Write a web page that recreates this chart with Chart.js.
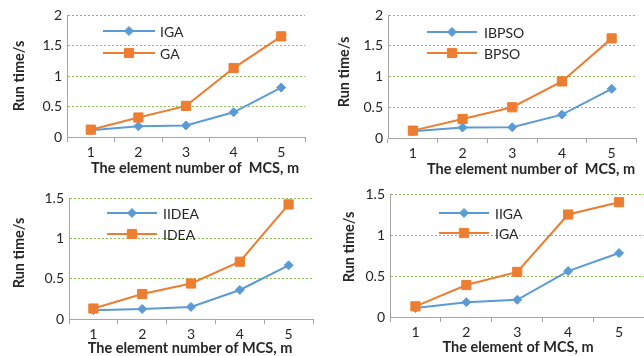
<!DOCTYPE html>
<html>
<head>
<meta charset="utf-8">
<script src="https://cdn.jsdelivr.net/npm/chart.js@4.4.1/dist/chart.umd.min.js"></script>
<style>
  html, body { margin: 0; padding: 0; background: #fff; overflow: hidden; width: 644px; height: 356px; }
  .panel { position: absolute; }
  canvas { display: block; }
</style>
</head>
<body>
<div class="panel" style="left:0px;top:0px"><canvas id="c1" width="322" height="178"></canvas></div>
<div class="panel" style="left:322px;top:0px"><canvas id="c2" width="322" height="178"></canvas></div>
<div class="panel" style="left:0px;top:178px"><canvas id="c3" width="322" height="178"></canvas></div>
<div class="panel" style="left:322px;top:178px"><canvas id="c4" width="330" height="178"></canvas></div>
<script>
// Number of MCS elements on the horizontal axis
const categories = ['1', '2', '3', '4', '5'];

// Run time (s) of each algorithm
const igaTimes    = [0.11, 0.175, 0.19, 0.405, 0.81];
const gaTimes     = [0.12, 0.32, 0.51, 1.13, 1.65];
const ibpsoTimes  = [0.11, 0.17, 0.175, 0.38, 0.80];
const bpsoTimes   = [0.12, 0.31, 0.50, 0.92, 1.62];
const iideaTimes  = [0.11, 0.124, 0.15, 0.36, 0.665];
const ideaTimes   = [0.13, 0.31, 0.44, 0.71, 1.42];
const iigaTimes   = [0.11, 0.18, 0.21, 0.56, 0.78];
const igaRefTimes = [0.13, 0.39, 0.55, 1.25, 1.40];

const seriesNames = [['IGA', 'GA'], ['IBPSO', 'BPSO'], ['IIDEA', 'IDEA'], ['IIGA', 'IGA']];
const seriesData = [[igaTimes, gaTimes], [ibpsoTimes, bpsoTimes], [iideaTimes, ideaTimes], [iigaTimes, igaRefTimes]];
const yMaxes = [2, 2, 1.5, 1.5];
const yStep = 0.5;
const xTitles = ['The element number of  MCS, m', 'The element number of  MCS, m', 'The element number of MCS, m', 'The element of MCS, m'];
const yTitle = 'Run time/s';

// Styling
const BLUE = '#5B9BD5';
const ORANGE = '#ED7D31';
const GREEN = '#8CC152';
const AXIS = '#A6A6A6';
const TEXT = '#262626';
const FONT = 'Lato, "Liberation Sans", sans-serif';

// Per-panel placement of plot area, legend and axis titles (canvas pixels)
const layouts = [
  { w: 322, h: 178, area: { l: 67, r: 305, t: 15, b: 137 }, legend: { x1: 103, x2: 155, y: [31, 53], tx: 160 }, xt: { x: 195, y: 168 }, yt: { x: 19, y: 76 } },
  { w: 322, h: 178, area: { l: 66, r: 320, t: 15, b: 138 }, legend: { x1: 105, x2: 155, y: [32, 53], tx: 162 }, xt: { x: 209, y: 169 }, yt: { x: 22, y: 72 } },
  { w: 322, h: 178, area: { l: 69, r: 313, t: 20, b: 141 }, legend: { x1: 107, x2: 157, y: [35, 56], tx: 163 }, xt: { x: 190, y: 170 }, yt: { x: 19, y: 75 } },
  { w: 330, h: 178, area: { l: 68, r: 325, t: 16, b: 139 }, legend: { x1: 117, x2: 167, y: [35, 55], tx: 173 }, xt: { x: 196, y: 169 }, yt: { x: 27, y: 69 } }
];

// Draws the in-plot legend and the axis titles
const decorPlugin = {
  id: 'decor',
  afterDraw(chart, args, opts) {
    const L = opts.layout;
    const ctx = chart.ctx;
    ctx.save();
    chart.data.datasets.forEach((ds, i) => {
      const y = L.legend.y[i];
      ctx.strokeStyle = ds.borderColor;
      ctx.lineWidth = ds.borderWidth;
      ctx.beginPath();
      ctx.moveTo(L.legend.x1, y);
      ctx.lineTo(L.legend.x2, y);
      ctx.stroke();
      ctx.fillStyle = ds.backgroundColor;
      ctx.strokeStyle = ds.pointBorderColor;
      ctx.lineWidth = ds.pointBorderWidth;
      Chart.helpers.drawPoint(ctx, { pointStyle: ds.pointStyle, radius: ds.pointRadius, borderWidth: ds.pointBorderWidth }, (L.legend.x1 + L.legend.x2) / 2, y);
      ctx.fillStyle = TEXT;
      ctx.font = '14px ' + FONT;
      ctx.textAlign = 'left';
      ctx.textBaseline = 'middle';
      ctx.fillText(ds.label, L.legend.tx, y + 1);
    });
    ctx.fillStyle = TEXT;
    ctx.font = 'bold 14.5px ' + FONT;
    ctx.textAlign = 'center';
    ctx.textBaseline = 'middle';
    ctx.fillText(opts.xTitle, L.xt.x, L.xt.y);
    ctx.translate(L.yt.x, L.yt.y);
    ctx.rotate(-Math.PI / 2);
    ctx.fillText(yTitle, 0, 0);
    ctx.restore();
  }
};

function makeChart(idx) {
  const L = layouts[idx];
  const names = seriesNames[idx];
  const data = seriesData[idx];
  new Chart(document.getElementById('c' + (idx + 1)), {
    type: 'line',
    data: {
      labels: categories,
      datasets: [
        { label: names[0], data: data[0], borderColor: BLUE, backgroundColor: BLUE, pointBorderColor: BLUE,
          borderWidth: 2, pointStyle: 'rectRot', pointRadius: 4.5, pointBorderWidth: 1, tension: 0, order: 1 },
        { label: names[1], data: data[1], borderColor: ORANGE, backgroundColor: ORANGE, pointBorderColor: ORANGE,
          borderWidth: 2, pointStyle: 'rect', pointRadius: 6.5, pointBorderWidth: 1, tension: 0, order: 0 }
      ]
    },
    options: {
      responsive: false,
      animation: false,
      events: [],
      layout: { padding: { left: 0, top: L.area.t, right: L.w - L.area.r, bottom: 0 } },
      plugins: {
        legend: { display: false },
        tooltip: { enabled: false },
        decor: { layout: L, xTitle: xTitles[idx] }
      },
      scales: {
        x: {
          offset: true,
          grid: { offset: true, drawOnChartArea: false, drawTicks: true, tickLength: 5, color: AXIS },
          border: { color: AXIS, width: 1 },
          ticks: { font: { family: FONT, size: 14 }, color: TEXT, padding: 2, maxRotation: 0 },
          afterFit: s => { s.height = L.h - L.area.b; }
        },
        y: {
          min: 0,
          max: yMaxes[idx],
          ticks: { stepSize: yStep, font: { family: FONT, size: 14 }, color: TEXT, padding: 5,
                   callback: v => String(Math.round(v * 10) / 10) },
          grid: { drawTicks: false, lineWidth: 1, color: c => (c.tick && c.tick.value === 0) ? 'rgba(0,0,0,0)' : GREEN },
          border: { color: AXIS, width: 1, dash: [2, 2] },
          afterFit: s => { s.width = L.area.l; }
        }
      }
    },
    plugins: [decorPlugin]
  });
}

for (let i = 0; i < 4; i++) makeChart(i);
</script>
</body>
</html>
